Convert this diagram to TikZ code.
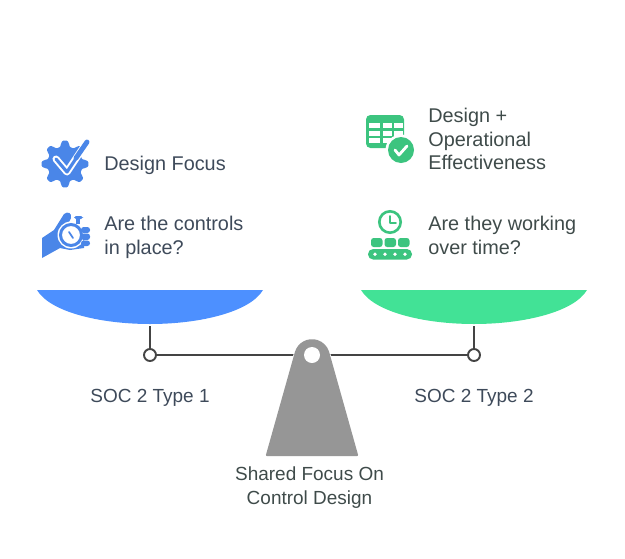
\documentclass[tikz,border=0pt]{standalone}
\usepackage{fontspec}
\setmainfont{Liberation Sans}
\usepackage{xcolor}
\usetikzlibrary{positioning}
\definecolor{bowlblue}{HTML}{4D90FF}
\definecolor{bowlgreen}{HTML}{42E296}
\definecolor{iconblue}{HTML}{4A86E8}
\definecolor{icongreen}{HTML}{3CC47F}
\definecolor{postgray}{HTML}{969696}
\definecolor{beamgray}{HTML}{444444}
\definecolor{lefttext}{HTML}{3E4A5A}
\definecolor{righttext}{HTML}{3F4B4A}
\tikzset{
	label text/.style={inner sep=0pt,align=left,anchor=west,font=\fontsize{11.3}{13.6}\selectfont},
	caption text/.style={inner sep=0pt,align=center,font=\fontsize{10.8}{13.6}\selectfont},
	pivotdot/.style={circle,draw=beamgray,fill=white,line width=1.1pt,minimum size=0.24cm,inner sep=0pt},
	hubdot/.style={circle,fill=white,minimum size=0.32cm,inner sep=0pt},
	beam/.style={draw=beamgray,line width=1.1pt}
}
\begin{document}
\begin{tikzpicture}[x=0.02cm,y=-0.02cm]
	\useasboundingbox (0,0) rectangle (625,558);
	% pans
	\fill[bowlblue] (37,290) -- (263,290) .. controls (250,312) and (200,324) .. (150,324) .. controls (100,324) and (50,312) .. (37,290) -- cycle;
	\fill[bowlgreen] (361,290) -- (587,290) .. controls (574,312) and (524,324) .. (474,324) .. controls (424,324) and (374,312) .. (361,290) -- cycle;
	% beam
	\coordinate (lbowl) at (150,326);
	\coordinate (rbowl) at (474,326);
	\node[pivotdot] (lpivot) at (150,355) {};
	\node[pivotdot] (rpivot) at (474,355) {};
	\node[hubdot] (hub) at (312,355) {};
	\draw[beam] (lbowl) -- (lpivot);
	\draw[beam] (rbowl) -- (rpivot);
	\draw[beam] (lpivot) -- (hub);
	\draw[beam] (rpivot) -- (hub);
	% post
	\draw[white,line width=2pt] (296,352) arc (197.4:342.6:16.8) -- (357,455) -- (267,455) -- cycle;
	\draw[postgray,fill=postgray,line width=1.2pt,line join=round] (296,352) arc (197.4:342.6:16.8) -- (357,455) -- (267,455) -- cycle;
	\node[hubdot] (hubtop) at (hub) {};
	% left badge
	\begin{scope}[shift={(65,164)}]
		\fill[iconblue] plot[smooth cycle,samples=96,domain=0:356.25] (\x:{20.5+3.4*(cos(8*\x)-0.15*cos(24*\x))});
		\draw[white,line width=4pt,line cap=round,line join=round] (-9,-5) -- (2,8) -- (22,-22);
		\draw[iconblue,line width=1.8pt,line cap=round,line join=round] (-9,-5) -- (2,8) -- (14,-10);
		\draw[iconblue,line width=2.8pt,line cap=round] (11,-6) -- (22,-22);
	\end{scope}
	% left hand
	\fill[iconblue] (42,238) -- (54,230) -- (64,214) .. controls (68,211) and (72,213) .. (71,218) -- (68,224) -- (84,230) -- (84,248) -- (70,250) -- (60,248) -- (42,258) -- cycle;
	\fill[white] (71,235) circle (13.5);
	\draw[iconblue,line width=1.7pt] (71,235) circle (10.5);
	\fill[iconblue,rounded corners=1pt] (74,216) rectangle (83,219);
	\fill[iconblue] (76,218) rectangle (80,224);
	\fill[iconblue,rounded corners=1.5pt] (81,227) rectangle (90,233);
	\fill[iconblue,rounded corners=1.5pt] (81,233.5) rectangle (90,240);
	\fill[iconblue,rounded corners=1.5pt] (81,240.5) rectangle (90,246);
	\draw[iconblue,line width=1pt,line cap=round] (69,232) -- (73,238);
	% right table
	\fill[icongreen,rounded corners=2.5pt] (366,115) rectangle (404,148);
	\foreach \cx/\cw in {369/11,383/9,394/8.5}
		\foreach \cy in {123,130.5,138}
			\fill[white] (\cx,\cy) rectangle +(\cw,5.3);
	\fill[white] (401,150) circle (15.5);
	\fill[icongreen] (401,150) circle (13);
	\draw[white,line width=1.6pt,line cap=round,line join=round] (395,150) -- (399,155) -- (407,146);
	% right clock and belt
	\draw[icongreen,line width=1.5pt] (390,222) circle (10.7);
	\draw[icongreen,line width=1.1pt,line cap=round,line join=round] (390,216) -- (390,223) -- (396,223);
	\foreach \bx in {371,384.5,398}
		\fill[icongreen,rounded corners=1.5pt] (\bx,238) rectangle +(11.5,9);
	\fill[icongreen,rounded corners=2.9pt] (368,249) rectangle (412,259.5);
	\foreach \dx in {375,385,395,405}
		\fill[white] (\dx,254.2) circle (1.9);
	% texts
	\node[label text,text=lefttext] (focusl) at (104,165) {Design Focus};
	\node[label text,text=lefttext] (questl) at (104,237) {Are the controls\\in place?};
	\node[label text,text=righttext] (focusr) at (428,139) {Design +\\Operational\\Effectiveness};
	\node[label text,text=righttext] (questr) at (428,235) {Are they working\\over time?};
	\node[caption text,text=lefttext] (capl) at (150,398) {SOC 2 Type 1};
	\node[caption text,text=lefttext] (capr) at (474,398) {SOC 2 Type 2};
	\node[caption text,text=righttext] (capm) at (309.5,488) {Shared Focus On\\Control Design};
\end{tikzpicture}
\end{document}
